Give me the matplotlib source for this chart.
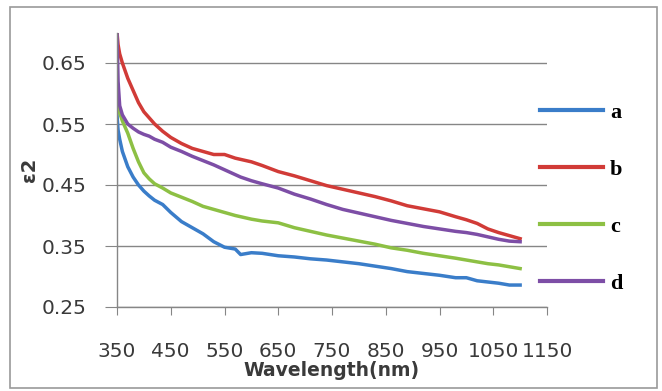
import matplotlib
matplotlib.use("Agg")
import matplotlib.pyplot as plt
from matplotlib.patches import Rectangle

wavelength = [350, 352, 355, 360, 370, 380, 390, 400, 410, 420, 435, 450, 470, 490, 510, 530, 550,
              570, 580, 600, 620, 650, 680, 710, 740, 770, 800, 830, 860, 890, 920, 950, 980,
              1000, 1020, 1040, 1060, 1080, 1100]
series_a = [0.565, 0.54, 0.525, 0.505, 0.48, 0.463, 0.45, 0.44, 0.432, 0.425, 0.418, 0.405, 0.39, 0.38,
            0.37, 0.357, 0.348, 0.345, 0.336, 0.339, 0.338, 0.334, 0.332, 0.329, 0.327, 0.324, 0.321,
            0.317, 0.313, 0.308, 0.305, 0.302, 0.298, 0.298, 0.293, 0.291, 0.289, 0.286, 0.286]
series_b = [0.70, 0.68, 0.665, 0.65, 0.625, 0.605, 0.585, 0.57, 0.56, 0.55, 0.538, 0.528, 0.518, 0.51,
            0.505, 0.50, 0.50, 0.494, 0.492, 0.488, 0.482, 0.472, 0.465, 0.457, 0.449, 0.443, 0.437,
            0.431, 0.424, 0.416, 0.411, 0.406, 0.398, 0.393, 0.387, 0.378, 0.372, 0.367, 0.362]
series_c = [0.58, 0.575, 0.568, 0.555, 0.535, 0.51, 0.488, 0.47, 0.46, 0.452, 0.445, 0.437, 0.43, 0.423,
            0.415, 0.41, 0.405, 0.40, 0.398, 0.394, 0.391, 0.388, 0.38, 0.374, 0.368, 0.363, 0.358,
            0.353, 0.347, 0.343, 0.338, 0.334, 0.33, 0.327, 0.324, 0.321, 0.319, 0.316, 0.313]
series_d = [0.70, 0.62, 0.58, 0.565, 0.55, 0.543, 0.537, 0.533, 0.53, 0.525, 0.52, 0.512, 0.505, 0.497,
            0.49, 0.483, 0.475, 0.467, 0.463, 0.457, 0.452, 0.445, 0.435, 0.427, 0.418, 0.41, 0.404,
            0.398, 0.392, 0.387, 0.382, 0.378, 0.374, 0.372, 0.369, 0.365, 0.361, 0.358, 0.357]
labels = ["a", "b", "c", "d"]
colors = ["#3a7dc9", "#d13b37", "#8dc044", "#7d4ea6"]
x_ticks = [350, 450, 550, 650, 750, 850, 950, 1050, 1150]
y_ticks = [0.25, 0.35, 0.45, 0.55, 0.65]

fig = plt.figure(figsize=(6.62, 3.91), dpi=100)
ax = fig.add_axes([117/662, 1-307/391, 430/662, (307-32.5)/391])

for ys, lab, col in zip([series_a, series_b, series_c, series_d], labels, colors):
    ax.plot(wavelength, ys, color=col, lw=2.5, label=lab, solid_joinstyle="round")

ax.set_xlim(350, 1150)
ax.set_ylim(0.25, 0.70)
ax.set_xticks(x_ticks)
ax.set_yticks(y_ticks)
ax.set_xticklabels([str(v) for v in x_ticks])
ax.set_yticklabels([f"{v:.2f}" for v in y_ticks])
for s in ["top", "right"]:
    ax.spines[s].set_visible(False)
for s in ["left", "bottom"]:
    ax.spines[s].set_color("#868686")
    ax.spines[s].set_linewidth(1.0)
ax.yaxis.grid(True, color="#868686", lw=1.0)
ax.set_axisbelow(True)
ax.tick_params(axis="y", length=9, color="#868686", labelsize=14.5, labelcolor="#3a3a3a", pad=13)
ax.tick_params(axis="x", length=6, color="#868686", labelsize=14.5, labelcolor="#3a3a3a", pad=19)
ax.set_xlabel("Wavelength(nm)", fontsize=13.5, fontweight="bold", color="#3a3a3a", labelpad=0)
ax.set_ylabel("ε2", fontsize=14, fontweight="bold", color="#3a3a3a", labelpad=2)

leg = ax.legend(loc="center left", bbox_to_anchor=(540/662, 1-198/391), bbox_transform=fig.transFigure,
                frameon=False, handlelength=2.85, handletextpad=0.3, labelspacing=1.64,
                borderpad=0, borderaxespad=0,
                prop={"family": "Liberation Serif", "size": 16, "weight": "bold"})
for line in leg.get_lines():
    line.set_linewidth(3)

fig.patches.append(Rectangle((10/662, 1-388/391), 647/662, 381/391, transform=fig.transFigure,
                             fill=False, edgecolor="#9a9a9a", lw=1.2))

fig.savefig("out.png", dpi=100)
